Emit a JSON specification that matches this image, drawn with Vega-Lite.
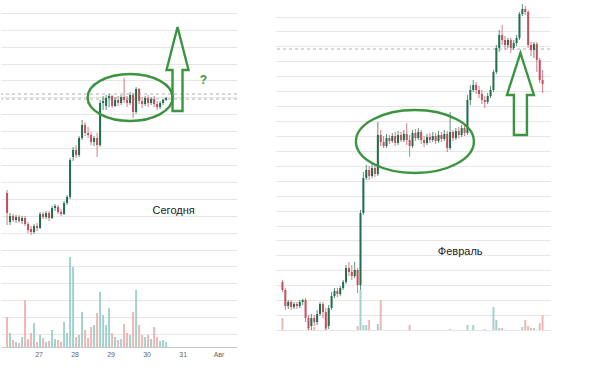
{
  "$schema": "https://vega.github.io/schema/vega-lite/v6.json",
  "padding": 0,
  "background": "white",
  "spacing": 37,
  "config": {
    "view": {"stroke": null},
    "font": "Liberation Sans",
    "axisY": {"grid": true, "gridColor": "#e6e6e6", "gridWidth": 1, "labels": false, "ticks": false, "tickSize": 0, "labelPadding": 0, "minExtent": 0, "maxExtent": 0, "offset": 0, "domain": false, "title": null, "labelOverlap": false}
  },
  "datasets": {
    "left": [
      {"t":3,"o":154,"c":134,"hi":157,"lo":122,"v":30},
      {"t":5,"o":125,"c":131,"hi":134,"lo":122,"v":14},
      {"t":7,"o":131,"c":127,"hi":133,"lo":125,"v":7},
      {"t":9,"o":127,"c":130,"hi":132,"lo":124,"v":5},
      {"t":11,"o":130,"c":126,"hi":132,"lo":124,"v":4},
      {"t":13,"o":126,"c":129,"hi":131,"lo":123,"v":10},
      {"t":15,"o":129,"c":123,"hi":131,"lo":121,"v":47},
      {"t":17,"o":123,"c":117,"hi":125,"lo":114,"v":8},
      {"t":19,"o":118,"c":115,"hi":121,"lo":112,"v":14},
      {"t":21,"o":115,"c":121,"hi":123,"lo":113,"v":24},
      {"t":23,"o":121,"c":119,"hi":124,"lo":116,"v":5},
      {"t":25,"o":119,"c":133,"hi":135,"lo":118,"v":12},
      {"t":27,"o":133,"c":130,"hi":135,"lo":128,"v":9},
      {"t":29,"o":130,"c":134,"hi":136,"lo":128,"v":5},
      {"t":31,"o":134,"c":129,"hi":136,"lo":126,"v":6},
      {"t":33,"o":129,"c":139,"hi":141,"lo":128,"v":17},
      {"t":35,"o":139,"c":141,"hi":143,"lo":136,"v":8},
      {"t":37,"o":140,"c":135,"hi":142,"lo":133,"v":7},
      {"t":39,"o":135,"c":133,"hi":138,"lo":131,"v":5},
      {"t":41,"o":133,"c":144,"hi":146,"lo":132,"v":25},
      {"t":43,"o":144,"c":150,"hi":152,"lo":142,"v":14},
      {"t":45,"o":150,"c":187,"hi":189,"lo":148,"v":90},
      {"t":47,"o":190,"c":197,"hi":200,"lo":186,"v":80},
      {"t":49,"o":197,"c":192,"hi":202,"lo":189,"v":10},
      {"t":51,"o":192,"c":209,"hi":211,"lo":190,"v":12},
      {"t":53,"o":209,"c":222,"hi":227,"lo":207,"v":35},
      {"t":55,"o":222,"c":214,"hi":225,"lo":211,"v":17},
      {"t":57,"o":214,"c":212,"hi":220,"lo":209,"v":9},
      {"t":59,"o":212,"c":205,"hi":215,"lo":202,"v":20},
      {"t":61,"o":205,"c":209,"hi":211,"lo":201,"v":22},
      {"t":63,"o":209,"c":202,"hi":214,"lo":190,"v":34},
      {"t":65,"o":202,"c":244,"hi":247,"lo":200,"v":55},
      {"t":67,"o":244,"c":246,"hi":251,"lo":237,"v":32},
      {"t":69,"o":241,"c":249,"hi":252,"lo":237,"v":22},
      {"t":71,"o":249,"c":251,"hi":253,"lo":240,"v":39},
      {"t":73,"o":251,"c":241,"hi":252,"lo":239,"v":14},
      {"t":75,"o":241,"c":247,"hi":250,"lo":240,"v":10},
      {"t":77,"o":247,"c":244,"hi":251,"lo":241,"v":7},
      {"t":79,"o":244,"c":250,"hi":252,"lo":242,"v":8},
      {"t":81,"o":250,"c":247,"hi":269,"lo":244,"v":23},
      {"t":83,"o":247,"c":244,"hi":251,"lo":240,"v":14},
      {"t":85,"o":244,"c":252,"hi":255,"lo":242,"v":12},
      {"t":87,"o":252,"c":235,"hi":254,"lo":229,"v":35},
      {"t":89,"o":235,"c":258,"hi":260,"lo":233,"v":57},
      {"t":91,"o":258,"c":246,"hi":259,"lo":243,"v":22},
      {"t":93,"o":246,"c":243,"hi":250,"lo":239,"v":12},
      {"t":95,"o":243,"c":249,"hi":251,"lo":241,"v":10},
      {"t":97,"o":249,"c":244,"hi":252,"lo":240,"v":12},
      {"t":99,"o":244,"c":248,"hi":250,"lo":242,"v":8},
      {"t":101,"o":248,"c":243,"hi":251,"lo":240,"v":20},
      {"t":103,"o":243,"c":240,"hi":246,"lo":237,"v":10},
      {"t":105,"o":240,"c":244,"hi":246,"lo":238,"v":6},
      {"t":107,"o":244,"c":247,"hi":248,"lo":242,"v":7},
      {"t":109,"o":247,"c":249,"hi":250,"lo":246,"v":5}
    ],
    "right": [
      {"t":0,"o":48,"c":40,"hi":50,"lo":38,"v":12},
      {"t":1,"o":40,"c":24,"hi":42,"lo":20,"v":0},
      {"t":2,"o":24,"c":28,"hi":30,"lo":21,"v":0},
      {"t":3,"o":28,"c":23,"hi":30,"lo":20,"v":0},
      {"t":4,"o":23,"c":26,"hi":28,"lo":21,"v":0},
      {"t":5,"o":26,"c":24,"hi":28,"lo":21,"v":0},
      {"t":6,"o":24,"c":28,"hi":30,"lo":22,"v":0},
      {"t":7,"o":28,"c":30,"hi":31,"lo":25,"v":0},
      {"t":8,"o":30,"c":12,"hi":32,"lo":8,"v":0},
      {"t":9,"o":12,"c":2,"hi":15,"lo":0,"v":3},
      {"t":10,"o":4,"c":12,"hi":16,"lo":0,"v":0},
      {"t":11,"o":12,"c":8,"hi":15,"lo":4,"v":3},
      {"t":12,"o":8,"c":16,"hi":20,"lo":5,"v":0},
      {"t":13,"o":16,"c":26,"hi":28,"lo":14,"v":0},
      {"t":14,"o":26,"c":18,"hi":28,"lo":12,"v":0},
      {"t":15,"o":18,"c":2,"hi":22,"lo":0,"v":2},
      {"t":16,"o":4,"c":22,"hi":25,"lo":1,"v":0},
      {"t":17,"o":22,"c":34,"hi":38,"lo":20,"v":0},
      {"t":18,"o":34,"c":39,"hi":42,"lo":32,"v":0},
      {"t":19,"o":39,"c":36,"hi":42,"lo":33,"v":0},
      {"t":20,"o":36,"c":42,"hi":44,"lo":34,"v":0},
      {"t":21,"o":42,"c":48,"hi":50,"lo":40,"v":0},
      {"t":22,"o":48,"c":62,"hi":65,"lo":46,"v":0},
      {"t":23,"o":62,"c":58,"hi":68,"lo":54,"v":0},
      {"t":24,"o":58,"c":54,"hi":65,"lo":50,"v":0},
      {"t":25,"o":54,"c":60,"hi":68,"lo":52,"v":0},
      {"t":26,"o":60,"c":45,"hi":62,"lo":37,"v":4},
      {"t":27,"o":45,"c":117,"hi":120,"lo":40,"v":40},
      {"t":28,"o":117,"c":152,"hi":158,"lo":115,"v":5},
      {"t":29,"o":152,"c":160,"hi":165,"lo":150,"v":5},
      {"t":30,"o":160,"c":154,"hi":164,"lo":150,"v":10},
      {"t":31,"o":154,"c":162,"hi":166,"lo":152,"v":0},
      {"t":32,"o":162,"c":156,"hi":165,"lo":153,"v":0},
      {"t":33,"o":156,"c":195,"hi":208,"lo":154,"v":6},
      {"t":34,"o":195,"c":188,"hi":200,"lo":184,"v":30},
      {"t":35,"o":188,"c":184,"hi":194,"lo":182,"v":0},
      {"t":36,"o":184,"c":192,"hi":196,"lo":182,"v":0},
      {"t":37,"o":192,"c":189,"hi":195,"lo":186,"v":0},
      {"t":38,"o":189,"c":194,"hi":197,"lo":187,"v":0},
      {"t":39,"o":194,"c":187,"hi":198,"lo":184,"v":0},
      {"t":40,"o":187,"c":195,"hi":199,"lo":185,"v":0},
      {"t":41,"o":195,"c":190,"hi":198,"lo":188,"v":0},
      {"t":42,"o":190,"c":196,"hi":200,"lo":188,"v":0},
      {"t":43,"o":196,"c":190,"hi":207,"lo":185,"v":0},
      {"t":44,"o":190,"c":184,"hi":195,"lo":173,"v":5},
      {"t":45,"o":184,"c":197,"hi":200,"lo":182,"v":0},
      {"t":46,"o":197,"c":192,"hi":201,"lo":189,"v":0},
      {"t":47,"o":192,"c":198,"hi":202,"lo":190,"v":0},
      {"t":48,"o":198,"c":190,"hi":200,"lo":186,"v":0},
      {"t":49,"o":190,"c":187,"hi":194,"lo":183,"v":0},
      {"t":50,"o":187,"c":193,"hi":196,"lo":185,"v":0},
      {"t":51,"o":193,"c":190,"hi":197,"lo":187,"v":0},
      {"t":52,"o":190,"c":194,"hi":198,"lo":188,"v":0},
      {"t":53,"o":194,"c":189,"hi":197,"lo":186,"v":0},
      {"t":54,"o":189,"c":195,"hi":199,"lo":187,"v":0},
      {"t":55,"o":195,"c":191,"hi":198,"lo":188,"v":0},
      {"t":56,"o":191,"c":196,"hi":200,"lo":189,"v":0},
      {"t":57,"o":196,"c":182,"hi":199,"lo":178,"v":0},
      {"t":58,"o":182,"c":198,"hi":218,"lo":180,"v":1},
      {"t":59,"o":198,"c":192,"hi":200,"lo":189,"v":0},
      {"t":60,"o":192,"c":199,"hi":202,"lo":190,"v":0},
      {"t":61,"o":199,"c":195,"hi":203,"lo":192,"v":0},
      {"t":62,"o":195,"c":202,"hi":205,"lo":193,"v":0},
      {"t":63,"o":202,"c":197,"hi":205,"lo":194,"v":0},
      {"t":64,"o":197,"c":230,"hi":235,"lo":195,"v":5},
      {"t":65,"o":230,"c":240,"hi":245,"lo":225,"v":0},
      {"t":66,"o":240,"c":245,"hi":250,"lo":238,"v":5},
      {"t":67,"o":245,"c":240,"hi":248,"lo":236,"v":0},
      {"t":68,"o":240,"c":236,"hi":244,"lo":232,"v":0},
      {"t":69,"o":236,"c":230,"hi":240,"lo":226,"v":0},
      {"t":70,"o":230,"c":228,"hi":234,"lo":222,"v":1},
      {"t":71,"o":228,"c":234,"hi":237,"lo":226,"v":0},
      {"t":72,"o":234,"c":240,"hi":244,"lo":232,"v":0},
      {"t":73,"o":240,"c":258,"hi":260,"lo":238,"v":23},
      {"t":74,"o":258,"c":282,"hi":285,"lo":256,"v":10},
      {"t":75,"o":282,"c":295,"hi":300,"lo":278,"v":2},
      {"t":76,"o":295,"c":290,"hi":305,"lo":285,"v":2},
      {"t":77,"o":290,"c":285,"hi":294,"lo":280,"v":0},
      {"t":78,"o":285,"c":290,"hi":292,"lo":282,"v":0},
      {"t":79,"o":290,"c":282,"hi":292,"lo":277,"v":0},
      {"t":80,"o":282,"c":287,"hi":290,"lo":280,"v":0},
      {"t":81,"o":287,"c":292,"hi":295,"lo":284,"v":0},
      {"t":82,"o":292,"c":316,"hi":318,"lo":290,"v":0},
      {"t":83,"o":316,"c":321,"hi":326,"lo":314,"v":3},
      {"t":84,"o":321,"c":318,"hi":324,"lo":315,"v":10},
      {"t":85,"o":318,"c":285,"hi":320,"lo":282,"v":4},
      {"t":86,"o":285,"c":280,"hi":288,"lo":274,"v":2},
      {"t":87,"o":280,"c":286,"hi":288,"lo":272,"v":2},
      {"t":88,"o":286,"c":270,"hi":288,"lo":258,"v":0},
      {"t":89,"o":270,"c":250,"hi":272,"lo":247,"v":7},
      {"t":90,"o":250,"c":246,"hi":260,"lo":237,"v":15}
    ]
  },
  "hconcat": [
    {
      "width": 236,
      "height": 347,
      "layer": [
        {
          "data": {"name": "left"},
          "transform": [{"filter": "datum.v > 0"}],
          "mark": {"type": "bar", "size": 2},
          "encoding": {
            "x": {"field": "t", "type": "quantitative", "scale": {"domain": [2.3, 152.9], "nice": false, "zero": false},
              "axis": {"values": [24, 48, 72, 96, 120, 144], "labelExpr": "datum.value == 144 ? 'Авг' : '' + (26 + datum.value / 24)", "title": null, "grid": false, "ticks": false, "domain": true, "domainColor": "#c8c8c8", "labelFontSize": 7, "labelColor": "#666666", "labelPadding": 3}},
            "y": {"field": "v", "type": "quantitative", "scale": {"domain": [0, 347], "nice": false, "zero": false},
              "axis": {"values": [13, 29.9, 46.8, 63.7, 80.6, 97.5, 114.4, 131.3, 148.2, 165.1, 182, 198.9, 215.8, 232.7, 249.6, 266.5, 283.4, 300.3, 317.2, 334.1]}},
            "y2": {"datum": 0},
            "color": {"condition": {"test": "datum.c >= datum.o", "value": "#a3d2cc"}, "value": "#efb6b6"}
          }
        },
        {
          "data": {"values": [{"level": 253}, {"level": 248}]},
          "mark": {"type": "rule", "strokeDash": [3, 3], "color": "#b0b0b0", "strokeWidth": 1},
          "encoding": {
            "y": {"field": "level", "type": "quantitative", "scale": {"domain": [0, 347], "nice": false, "zero": false},
              "axis": {"values": [13, 29.9, 46.8, 63.7, 80.6, 97.5, 114.4, 131.3, 148.2, 165.1, 182, 198.9, 215.8, 232.7, 249.6, 266.5, 283.4, 300.3, 317.2, 334.1]}}
          }
        },
        {
          "data": {"name": "left"},
          "mark": {"type": "rule", "strokeWidth": 1, "opacity": 0.75},
          "encoding": {
            "x": {"field": "t", "type": "quantitative", "scale": {"domain": [2.3, 152.9], "nice": false, "zero": false}},
            "y": {"field": "lo", "type": "quantitative", "scale": {"domain": [0, 347], "nice": false, "zero": false},
              "axis": {"values": [13, 29.9, 46.8, 63.7, 80.6, 97.5, 114.4, 131.3, 148.2, 165.1, 182, 198.9, 215.8, 232.7, 249.6, 266.5, 283.4, 300.3, 317.2, 334.1]}},
            "y2": {"field": "hi"},
            "color": {"condition": {"test": "datum.c >= datum.o", "value": "#1f6e4c"}, "value": "#c44f5e"}
          }
        },
        {
          "data": {"name": "left"},
          "mark": {"type": "bar", "size": 2},
          "encoding": {
            "x": {"field": "t", "type": "quantitative", "scale": {"domain": [2.3, 152.9], "nice": false, "zero": false}},
            "y": {"field": "o", "type": "quantitative", "scale": {"domain": [0, 347], "nice": false, "zero": false},
              "axis": {"values": [13, 29.9, 46.8, 63.7, 80.6, 97.5, 114.4, 131.3, 148.2, 165.1, 182, 198.9, 215.8, 232.7, 249.6, 266.5, 283.4, 300.3, 317.2, 334.1]}},
            "y2": {"field": "c"},
            "color": {"condition": {"test": "datum.c >= datum.o", "value": "#1f6e4c"}, "value": "#c44f5e"}
          }
        },
        {
          "data": {"values": [{"t": 85, "p": 249.5}]},
          "mark": {"type": "point", "shape": "M1,0C1,0.305 0.552,0.553 0,0.553C-0.552,0.553 -1,0.305 -1,0C-1,-0.305 -0.552,-0.553 0,-0.553C0.552,-0.553 1,-0.305 1,0Z", "size": 7225, "filled": false, "color": "#3a9440", "strokeWidth": 2.4, "opacity": 1},
          "encoding": {
            "x": {"field": "t", "type": "quantitative", "scale": {"domain": [2.3, 152.9], "nice": false, "zero": false}},
            "y": {"field": "p", "type": "quantitative", "scale": {"domain": [0, 347], "nice": false, "zero": false},
              "axis": {"values": [13, 29.9, 46.8, 63.7, 80.6, 97.5, 114.4, 131.3, 148.2, 165.1, 182, 198.9, 215.8, 232.7, 249.6, 266.5, 283.4, 300.3, 317.2, 334.1]}}
          }
        },
        {
          "data": {"values": [{"t": 116.6, "p": 278}]},
          "mark": {"type": "point", "shape": "M0,-1L0.262,0.024L0.119,0.024L0.119,1L-0.119,1L-0.119,0.024L-0.262,0.024Z", "size": 7056, "filled": false, "color": "#3a9440", "strokeWidth": 2.4, "opacity": 1},
          "encoding": {
            "x": {"field": "t", "type": "quantitative", "scale": {"domain": [2.3, 152.9], "nice": false, "zero": false}},
            "y": {"field": "p", "type": "quantitative", "scale": {"domain": [0, 347], "nice": false, "zero": false},
              "axis": {"values": [13, 29.9, 46.8, 63.7, 80.6, 97.5, 114.4, 131.3, 148.2, 165.1, 182, 198.9, 215.8, 232.7, 249.6, 266.5, 283.4, 300.3, 317.2, 334.1]}}
          }
        },
        {
          "data": {"values": [{"t": 133.8, "p": 267, "label": "?"}]},
          "mark": {"type": "text", "fontSize": 12, "fontWeight": "bold", "color": "#3a9440", "align": "center", "baseline": "middle"},
          "encoding": {
            "x": {"field": "t", "type": "quantitative", "scale": {"domain": [2.3, 152.9], "nice": false, "zero": false}},
            "y": {"field": "p", "type": "quantitative", "scale": {"domain": [0, 347], "nice": false, "zero": false},
              "axis": {"values": [13, 29.9, 46.8, 63.7, 80.6, 97.5, 114.4, 131.3, 148.2, 165.1, 182, 198.9, 215.8, 232.7, 249.6, 266.5, 283.4, 300.3, 317.2, 334.1]}},
            "text": {"field": "label"}
          }
        },
        {
          "data": {"values": [{"t": 114, "p": 136, "label": "Сегодня"}]},
          "mark": {"type": "text", "fontSize": 11, "color": "#222222", "align": "center", "baseline": "middle"},
          "encoding": {
            "x": {"field": "t", "type": "quantitative", "scale": {"domain": [2.3, 152.9], "nice": false, "zero": false}},
            "y": {"field": "p", "type": "quantitative", "scale": {"domain": [0, 347], "nice": false, "zero": false},
              "axis": {"values": [13, 29.9, 46.8, 63.7, 80.6, 97.5, 114.4, 131.3, 148.2, 165.1, 182, 198.9, 215.8, 232.7, 249.6, 266.5, 283.4, 300.3, 317.2, 334.1]}},
            "text": {"field": "label"}
          }
        }
      ]
    },
    {
      "width": 274,
      "height": 330,
      "layer": [
        {
          "data": {"name": "right"},
          "transform": [{"filter": "datum.v > 0"}],
          "mark": {"type": "bar", "size": 2},
          "encoding": {
            "x": {"field": "t", "type": "quantitative", "scale": {"domain": [-0.5, 90.83], "nice": false, "zero": false}, "axis": null},
            "y": {"field": "v", "type": "quantitative", "scale": {"domain": [0, 330], "nice": false, "zero": false},
              "axis": {"values": [0, 14.9, 29.9, 44.8, 59.7, 74.7, 89.6, 104.5, 119.4, 134.4, 149.3, 164.2, 179.2, 194.1, 209, 223.9, 238.9, 253.8, 268.7, 283.7, 298.6, 313.5]}},
            "y2": {"datum": 0},
            "color": {"condition": {"test": "datum.c >= datum.o", "value": "#a3d2cc"}, "value": "#efb6b6"}
          }
        },
        {
          "data": {"values": [{"level": 281}]},
          "mark": {"type": "rule", "strokeDash": [3, 3], "color": "#b0b0b0", "strokeWidth": 1},
          "encoding": {
            "y": {"field": "level", "type": "quantitative", "scale": {"domain": [0, 330], "nice": false, "zero": false},
              "axis": {"values": [0, 14.9, 29.9, 44.8, 59.7, 74.7, 89.6, 104.5, 119.4, 134.4, 149.3, 164.2, 179.2, 194.1, 209, 223.9, 238.9, 253.8, 268.7, 283.7, 298.6, 313.5]}}
          }
        },
        {
          "data": {"name": "right"},
          "mark": {"type": "rule", "strokeWidth": 1, "opacity": 0.75},
          "encoding": {
            "x": {"field": "t", "type": "quantitative", "scale": {"domain": [-0.5, 90.83], "nice": false, "zero": false}, "axis": null},
            "y": {"field": "lo", "type": "quantitative", "scale": {"domain": [0, 330], "nice": false, "zero": false},
              "axis": {"values": [0, 14.9, 29.9, 44.8, 59.7, 74.7, 89.6, 104.5, 119.4, 134.4, 149.3, 164.2, 179.2, 194.1, 209, 223.9, 238.9, 253.8, 268.7, 283.7, 298.6, 313.5]}},
            "y2": {"field": "hi"},
            "color": {"condition": {"test": "datum.c >= datum.o", "value": "#1f6e4c"}, "value": "#c44f5e"}
          }
        },
        {
          "data": {"name": "right"},
          "mark": {"type": "bar", "size": 2},
          "encoding": {
            "x": {"field": "t", "type": "quantitative", "scale": {"domain": [-0.5, 90.83], "nice": false, "zero": false}, "axis": null},
            "y": {"field": "o", "type": "quantitative", "scale": {"domain": [0, 330], "nice": false, "zero": false},
              "axis": {"values": [0, 14.9, 29.9, 44.8, 59.7, 74.7, 89.6, 104.5, 119.4, 134.4, 149.3, 164.2, 179.2, 194.1, 209, 223.9, 238.9, 253.8, 268.7, 283.7, 298.6, 313.5]}},
            "y2": {"field": "c"},
            "color": {"condition": {"test": "datum.c >= datum.o", "value": "#1f6e4c"}, "value": "#c44f5e"}
          }
        },
        {
          "data": {"values": [{"t": 45.83, "p": 188.5}]},
          "mark": {"type": "point", "shape": "M1,0C1,0.295 0.552,0.534 0,0.534C-0.552,0.534 -1,0.295 -1,0C-1,-0.295 -0.552,-0.534 0,-0.534C0.552,-0.534 1,-0.295 1,0Z", "size": 13924, "filled": false, "color": "#3a9440", "strokeWidth": 2.4, "opacity": 1},
          "encoding": {
            "x": {"field": "t", "type": "quantitative", "scale": {"domain": [-0.5, 90.83], "nice": false, "zero": false}, "axis": null},
            "y": {"field": "p", "type": "quantitative", "scale": {"domain": [0, 330], "nice": false, "zero": false},
              "axis": {"values": [0, 14.9, 29.9, 44.8, 59.7, 74.7, 89.6, 104.5, 119.4, 134.4, 149.3, 164.2, 179.2, 194.1, 209, 223.9, 238.9, 253.8, 268.7, 283.7, 298.6, 313.5]}}
          }
        },
        {
          "data": {"values": [{"t": 82.33, "p": 236}]},
          "mark": {"type": "point", "shape": "M0,-1L0.329,0.024L0.159,0.024L0.159,1L-0.159,1L-0.159,0.024L-0.329,0.024Z", "size": 6724, "filled": false, "color": "#3a9440", "strokeWidth": 2.4, "opacity": 1},
          "encoding": {
            "x": {"field": "t", "type": "quantitative", "scale": {"domain": [-0.5, 90.83], "nice": false, "zero": false}, "axis": null},
            "y": {"field": "p", "type": "quantitative", "scale": {"domain": [0, 330], "nice": false, "zero": false},
              "axis": {"values": [0, 14.9, 29.9, 44.8, 59.7, 74.7, 89.6, 104.5, 119.4, 134.4, 149.3, 164.2, 179.2, 194.1, 209, 223.9, 238.9, 253.8, 268.7, 283.7, 298.6, 313.5]}}
          }
        },
        {
          "data": {"values": [{"t": 61.5, "p": 78, "label": "Февраль"}]},
          "mark": {"type": "text", "fontSize": 11, "color": "#222222", "align": "center", "baseline": "middle"},
          "encoding": {
            "x": {"field": "t", "type": "quantitative", "scale": {"domain": [-0.5, 90.83], "nice": false, "zero": false}, "axis": null},
            "y": {"field": "p", "type": "quantitative", "scale": {"domain": [0, 330], "nice": false, "zero": false},
              "axis": {"values": [0, 14.9, 29.9, 44.8, 59.7, 74.7, 89.6, 104.5, 119.4, 134.4, 149.3, 164.2, 179.2, 194.1, 209, 223.9, 238.9, 253.8, 268.7, 283.7, 298.6, 313.5]}},
            "text": {"field": "label"}
          }
        }
      ]
    }
  ]
}
